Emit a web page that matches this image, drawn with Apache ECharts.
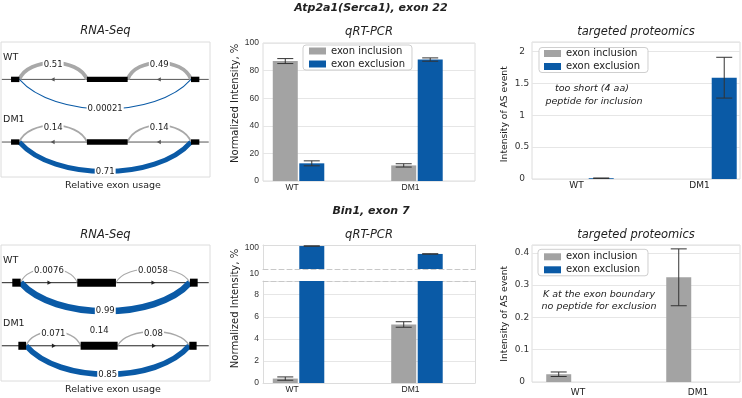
<!DOCTYPE html>
<html>
<head>
<meta charset="utf-8">
<script src="https://cdn.jsdelivr.net/npm/echarts@6.0.0/dist/echarts.min.js"></script>
<style>
  html, body { margin: 0; padding: 0; background: #fff; }
  #chart { width: 742px; height: 398px; }
</style>
</head>
<body>
<div id="chart"></div>
<script>
// ---------- data ----------
const groups = ['WT', 'DM1'];
const seriesNames = ['exon inclusion', 'exon exclusion'];
const trackNames = ['WT', 'DM1'];

// Atp2a1 (Serca1), exon 22
const atpQpcrIncl = [86.9, 11.3];
const atpQpcrInclErr = [1.8, 1.2];
const atpQpcrExcl = [12.8, 88.0];
const atpQpcrExclErr = [1.8, 1.2];
const atpProtIncl = ['-', '-'];
const atpProtExcl = [0.012, 1.59];
const atpProtExclErr = [0.003, 0.32];
const atpJuncWT = [0.51, 0.49, 0.00021];   // left, right, skipping
const atpJuncDM1 = [0.14, 0.14, 0.71];

// Bin1, exon 7
const binQpcrIncl = [0.4, 5.3];
const binQpcrInclErr = [0.15, 0.25];
const binQpcrExcl = [99.2, 45];
const binQpcrExclErr = [0.8, 0.8];
const binProtIncl = [0.024, 0.324];
const binProtInclErr = [0.007, 0.088];
const binProtExcl = ['-', '-'];
const binJuncWT = [0.0076, 0.0058, 0.99];
const binJuncDM1 = [0.071, 0.08, 0.85];
const binExonUsage = [null, 0.14];         // middle exon, per track

// sashimi layout (box units, 0-100 both ways)
const atpExons = [[4.8, 8.8], [41.1, 60.6], [90.9, 94.9]];
const binExonsWT = [[5.4, 9.4], [36.5, 55.0], [90.4, 94.1]];
const binExonsDM1 = [[8.3, 12.0], [38.1, 55.8], [90.1, 93.6]];
const trackBase = [27.7, 74.1];

// ---------- styles ----------
const GRAY = '#a3a3a3', BLUE = '#0a5aa6', TXT = '#222';
const FRAME = '#dcdcdc', GRIDLINE = '#e6e6e6';
const BAR_W = 25, GAP_PX = 1.5;
const FONT = 'DejaVu Sans';

function txt(style) {
  // zrender + legacy names so both style paths agree
  return Object.assign({
    fill: TXT, textFill: TXT,
    align: style.textAlign || 'center', verticalAlign: 'middle',
    textAlign: style.textAlign || 'center', textVerticalAlign: 'middle'
  }, style);
}

function sashimiRender(cfg) {
  return function (params, api) {
    const k = params.dataIndex;
    const base = trackBase[k];
    const ex = cfg.exons[k];
    const vals = cfg.junc[k];
    const P = (x, y) => api.coord([x, y]);
    const kids = [];
    const l0 = P(0.4, base), l1 = P(99.4, base);
    kids.push({ type: 'line', shape: { x1: l0[0], y1: l0[1], x2: l1[0], y2: l1[1] },
      style: { stroke: cfg.lineColor, lineWidth: 1 } });
    // strand arrows in the middle of each intron
    [[ex[0][1], ex[1][0]], [ex[1][1], ex[2][0]]].forEach(([a, b]) => {
      const p = P((a + b) / 2, base), d = cfg.arrowDir;
      kids.push({ type: 'polygon', shape: { points: [[p[0] + 2.5 * d, p[1]], [p[0] - 1.5 * d, p[1] - 2.2], [p[0] - 1.5 * d, p[1] + 2.2]] },
        style: { fill: cfg.lineColor } });
    });
    const spans = [[ex[0][1], ex[1][0], -1], [ex[1][1], ex[2][0], -1], [ex[0][1], ex[2][0], 1]];
    const labels = [];
    spans.forEach(([a, b, side], j) => {
      const v = vals[j];
      const p1 = P(a, base), p2 = P(b, base);
      const apex = P((a + b) / 2, base + side * (side < 0 ? cfg.upH : cfg.downH));
      const off = (apex[1] - p1[1]) / 0.75;
      const w = p2[0] - p1[0];
      const ins = side < 0 ? 0.12 : 0.2;
      kids.push({ type: 'bezierCurve',
        shape: { x1: p1[0], y1: p1[1], cpx1: p1[0] + w * ins, cpy1: p1[1] + off, cpx2: p2[0] - w * ins, cpy2: p1[1] + off, x2: p2[0], y2: p2[1] },
        style: { stroke: side < 0 ? '#a8a8a8' : BLUE, lineWidth: 1 + 5.5 * v, fill: null } });
      labels.push({ type: 'text', x: apex[0], y: apex[1] + (side < 0 ? 2.5 : 0),
        style: txt({ text: String(v), font: '8.5px "' + FONT + '"', backgroundColor: '#fff', textBackgroundColor: '#fff', padding: [0, 1], textPadding: [0, 1] }) });
    });
    ex.forEach((e) => {
      const a = P(e[0], base - cfg.exonH / 2), b = P(e[1], base + cfg.exonH / 2);
      kids.push({ type: 'rect', shape: { x: a[0], y: a[1], width: b[0] - a[0], height: b[1] - a[1] }, style: { fill: '#000' } });
    });
    if (cfg.exonLabel && cfg.exonLabel[k] != null) {
      const p = P((ex[1][0] + ex[1][1]) / 2, base - 10.8);
      labels.push({ type: 'text', x: p[0], y: p[1], style: txt({ text: String(cfg.exonLabel[k]), font: '8.5px "' + FONT + '"' }) });
    }
    const tp = P(1, base - 16.3);
    labels.push({ type: 'text', x: tp[0], y: tp[1], style: txt({ text: trackNames[k], font: '9.5px "' + FONT + '"', textAlign: 'left' }) });
    return { type: 'group', children: kids.concat(labels) };
  };
}

function errorRender(slot) {
  return function (params, api) {
    const x = api.value(0);
    const top = api.coord([x, api.value(2)]), bot = api.coord([x, api.value(1)]);
    const cx = top[0] + (slot === 0 ? -1 : 1) * (BAR_W + GAP_PX) / 2;
    const st = { stroke: '#333', lineWidth: 1 };
    return { type: 'group', children: [
      { type: 'line', shape: { x1: cx, y1: top[1], x2: cx, y2: bot[1] }, style: st },
      { type: 'line', shape: { x1: cx - 8, y1: top[1], x2: cx + 8, y2: top[1] }, style: st },
      { type: 'line', shape: { x1: cx - 8, y1: bot[1], x2: cx + 8, y2: bot[1] }, style: st }
    ] };
  };
}

const xAxes = [], yAxes = [], series = [];
const add = (arr, o) => { arr.push(o); return arr.length - 1; };
const noLine = { show: false, onZero: false };

function hiddenAxes(grid) {
  const xi = add(xAxes, { type: 'value', gridIndex: grid, min: 0, max: 100, show: false });
  const yi = add(yAxes, { type: 'value', gridIndex: grid, min: 0, max: 100, inverse: true, show: false });
  return [xi, yi];
}

function groupAxis(grid, min, max, lab, extra) {
  return add(xAxes, Object.assign({
    type: 'value', gridIndex: grid, min: min, max: max,
    axisLine: noLine, axisTick: { show: false }, splitLine: { show: false },
    axisLabel: Object.assign({ customValues: [0, 1], formatter: (v) => groups[Math.round(v)], color: TXT }, lab)
  }, extra || {}));
}

function valueAxis(grid, min, max, interval, lab, showMax) {
  return add(yAxes, {
    type: 'value', gridIndex: grid, min: min, max: max, interval: interval,
    axisLine: noLine, axisTick: { show: false },
    splitLine: { lineStyle: { color: GRIDLINE, width: 1 } },
    axisLabel: Object.assign({ color: '#333', showMaxLabel: !!showMax }, lab)
  });
}

function bars(xi, yi, vals, idx) {
  series.push({ type: 'bar', name: seriesNames[idx], xAxisIndex: xi, yAxisIndex: yi,
    barWidth: BAR_W, barGap: '6%', itemStyle: { color: idx === 0 ? GRAY : BLUE },
    data: vals.map((v, i) => [i, v]) });
}

function errs(xi, yi, vals, err, slot) {
  const data = [];
  vals.forEach((v, i) => { if (v !== '-') data.push([i, v - err[i], v + err[i]]); });
  series.push({ type: 'custom', name: 'err', xAxisIndex: xi, yAxisIndex: yi, z: 5,
    renderItem: errorRender(slot), encode: { x: 0, y: [1, 2] }, data: data });
}

const qLab = { fontSize: 8.5, fontFamily: 'Liberation Sans' };
const pLab = { fontSize: 9, fontFamily: FONT };

// ---- RNA-Seq top (grid 0) ----
let [xi, yi] = hiddenAxes(0);
series.push({ type: 'custom', name: 'sashimi', xAxisIndex: xi, yAxisIndex: yi, data: [[0, 0], [1, 0]],
  renderItem: sashimiRender({ exons: [atpExons, atpExons], junc: [atpJuncWT, atpJuncDM1], arrowDir: -1,
    exonH: 4, upH: 12.3, downH: 21.8, lineColor: '#555' }) });

// ---- qRT-PCR top (grid 1) ----
xi = groupAxis(1, -0.3, 1.49, Object.assign({ margin: 2, padding: [0, 13, 0, 0] }, qLab));
yi = valueAxis(1, 0, 100, 20, Object.assign({ margin: 4 }, qLab), true);
bars(xi, yi, atpQpcrIncl, 0);
bars(xi, yi, atpQpcrExcl, 1);
errs(xi, yi, atpQpcrIncl, atpQpcrInclErr, 0);
errs(xi, yi, atpQpcrExcl, atpQpcrExclErr, 1);

// ---- proteomics top (grid 2) ----
xi = groupAxis(2, -0.455, 1.236, Object.assign({ margin: 2, padding: [0, 23, 0, 0] }, pLab));
yi = valueAxis(2, 0, 2.15, 0.5, Object.assign({ margin: 10, align: 'center' }, pLab));
bars(xi, yi, atpProtIncl, 0);
bars(xi, yi, atpProtExcl, 1);
errs(xi, yi, atpProtExcl, atpProtExclErr, 1);

// ---- RNA-Seq bottom (grid 3) ----
[xi, yi] = hiddenAxes(3);
series.push({ type: 'custom', name: 'sashimi', xAxisIndex: xi, yAxisIndex: yi, data: [[0, 0], [1, 0]],
  renderItem: sashimiRender({ exons: [binExonsWT, binExonsDM1], junc: [binJuncWT, binJuncDM1], exonLabel: binExonUsage,
    arrowDir: 1, exonH: 5.9, upH: 10.5, downH: 21, lineColor: '#222' }) });

// ---- qRT-PCR bottom, broken axis (grids 4 upper, 5 lower) ----
const solid = { show: true, onZero: false, lineStyle: { color: FRAME } };
const dashed = { show: true, onZero: false, lineStyle: { color: '#c8c8c8', type: [5, 3] } };
const bareX = (grid, pos, line) => add(xAxes, { type: 'value', gridIndex: grid, position: pos, min: -0.3, max: 1.49,
  axisLine: line, axisTick: { show: false }, axisLabel: { show: false }, splitLine: { show: false } });
const bareY = (grid) => add(yAxes, { type: 'value', gridIndex: grid, position: 'right', min: 0, max: 1,
  axisLine: solid, axisTick: { show: false }, axisLabel: { show: false }, splitLine: { show: false } });

xi = bareX(4, 'bottom', dashed);
bareX(4, 'top', solid);
yi = add(yAxes, { type: 'log', logBase: 10, gridIndex: 4, min: 10, max: 110,
  axisLine: solid, axisTick: { show: false }, splitLine: { show: false },
  axisLabel: { margin: 4, showMaxLabel: false, formatter: (v) => Math.round(v) === 10 ? '{lo|10}' : '{hi|' + Math.round(v) + '}',
    rich: { lo: Object.assign({ padding: [10, 0, 0, 0], color: '#333' }, qLab), hi: Object.assign({ padding: [3.5, 0, 0, 0], color: '#333' }, qLab) } } });
bareY(4);
bars(xi, yi, binQpcrIncl.map(() => '-'), 0);
bars(xi, yi, binQpcrExcl, 1);
errs(xi, yi, binQpcrExcl, binQpcrExclErr, 1);

xi = groupAxis(5, -0.3, 1.49, Object.assign({ margin: 2.5, padding: [0, 13, 0, 0] }, qLab), { axisLine: solid });
bareX(5, 'top', dashed);
yi = valueAxis(5, 0, 9.24, 2, Object.assign({ margin: 4 }, qLab));
yAxes[yi].axisLine = solid;
bareY(5);
bars(xi, yi, binQpcrIncl, 0);
bars(xi, yi, binQpcrExcl, 1);
errs(xi, yi, binQpcrIncl, binQpcrInclErr, 0);

// ---- proteomics bottom (grid 6) ----
xi = groupAxis(6, -0.333, 1.4, Object.assign({ margin: 6.5, padding: [0, 0, 0, 12] }, pLab));
yi = valueAxis(6, 0, 0.424, 0.1, Object.assign({ margin: 10, align: 'center' }, pLab));
bars(xi, yi, binProtIncl, 0);
bars(xi, yi, binProtExcl, 1);
errs(xi, yi, binProtIncl, binProtInclErr, 0);

// ---------- layout ----------
const box = (o, show) => Object.assign({ show: show !== false, borderColor: FRAME, borderWidth: 1, backgroundColor: 'transparent', outerBoundsMode: 'none', containLabel: false }, o);
const grids = [
  box({ left: 1, top: 42, width: 209, height: 135 }),
  box({ left: 263, top: 43, width: 212, height: 138 }),
  box({ left: 532, top: 42, width: 208, height: 137 }),
  box({ left: 1, top: 245, width: 209, height: 136 }),
  box({ left: 263, top: 245, width: 212, height: 24 }, false),
  box({ left: 263, top: 281, width: 212, height: 102 }, false),
  box({ left: 532, top: 245, width: 208, height: 137 })
];

const legendBase = {
  orient: 'vertical', icon: 'rect', itemWidth: 17, itemHeight: 7, itemGap: 1,
  data: seriesNames, selectedMode: false,
  borderColor: '#cfcfcf', borderWidth: 1, borderRadius: 3, backgroundColor: '#fff',
  textStyle: { fontSize: 10, fontFamily: FONT, color: TXT, lineHeight: 12 }
};

function label(x, y, text, font, rot) {
  return { type: 'text', x: x, y: y, rotation: rot || 0, z: 100,
    style: txt({ text: text, font: font }) };
}
const F = (s) => s + ' "' + FONT + '"';
const graphics = [
  label(371, 8, 'Atp2a1(Serca1), exon 22', F('italic bold 11px')),
  label(371, 211, 'Bin1, exon 7', F('italic bold 11px')),
  label(105.5, 31, 'RNA-Seq', F('italic 11.5px')),
  label(369, 31.7, 'qRT-PCR', F('italic 11.5px')),
  label(636, 31.7, 'targeted proteomics', F('italic 11.5px')),
  label(105.5, 235, 'RNA-Seq', F('italic 11.5px')),
  label(369, 235, 'qRT-PCR', F('italic 11.5px')),
  label(636, 235, 'targeted proteomics', F('italic 11.5px')),
  label(113, 185.5, 'Relative exon usage', F('9.5px')),
  label(113, 390, 'Relative exon usage', F('9.5px')),
  label(235, 103.3, 'Normalized Intensity, %', F('10px'), Math.PI / 2),
  label(235, 308.5, 'Normalized Intensity, %', F('10px'), Math.PI / 2),
  label(505, 114.2, 'Intensity of AS event', F('9.2px'), Math.PI / 2),
  label(505, 313.8, 'Intensity of AS event', F('9.2px'), Math.PI / 2),
  label(592, 89, 'too short (4 aa)', F('italic 9.5px')),
  label(594, 101.7, 'peptide for inclusion', F('italic 9.5px')),
  label(599, 295, 'K at the exon boundary', F('italic 9.5px')),
  label(599, 306.7, 'no peptide for exclusion', F('italic 9.5px'))
];

const option = {
  animation: false,
  backgroundColor: '#fff',
  textStyle: { fontFamily: FONT },
  grid: grids,
  xAxis: xAxes,
  yAxis: yAxes,
  legend: [
    Object.assign({}, legendBase, { left: 303, top: 45, padding: [0, 7, 0, 6] }),
    Object.assign({}, legendBase, { left: 539, top: 47.5, padding: [0, 8, 0, 5] }),
    Object.assign({}, legendBase, { left: 538, top: 249.3, padding: [1.5, 8, 0, 6] })
  ],
  graphic: graphics,
  series: series
};

const chart = echarts.init(document.getElementById('chart'), null, { renderer: 'canvas' });
chart.setOption(option);
</script>
</body>
</html>
